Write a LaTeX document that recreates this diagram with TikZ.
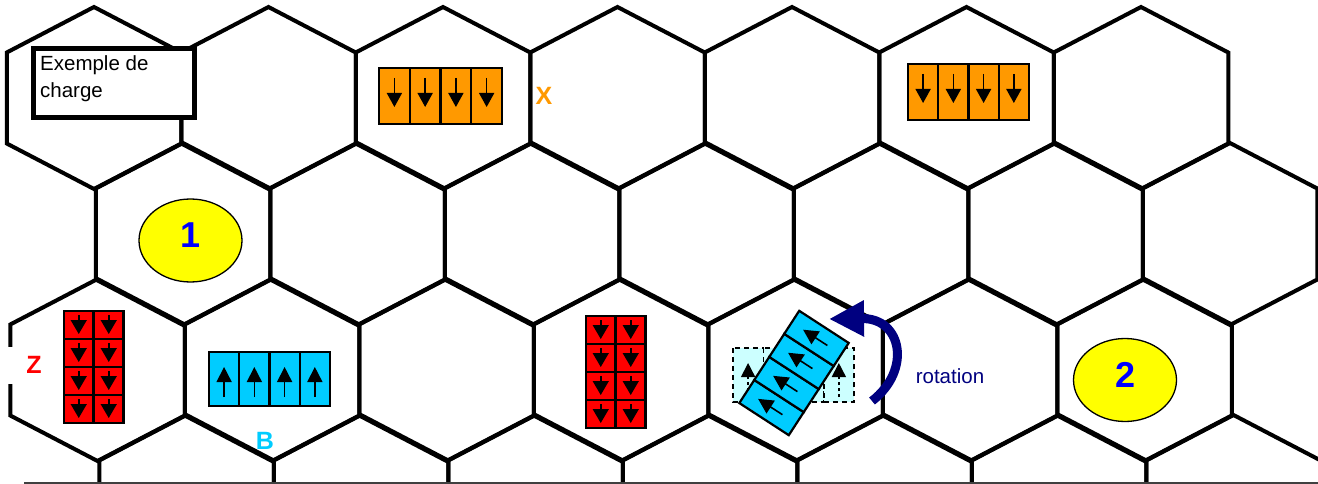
\documentclass[tikz,border=0pt]{standalone}
\usepackage{fontspec}
\setmainfont{Liberation Sans}
\usetikzlibrary{arrows.meta,shapes.geometric}
\definecolor{orangetile}{HTML}{FF9900}
\definecolor{redtile}{HTML}{FF0000}
\definecolor{cyantile}{HTML}{00CCFF}
\definecolor{ghosttile}{HTML}{CCFFFF}
\definecolor{navyrot}{HTML}{000080}
\definecolor{sitefill}{HTML}{FFFF00}
\definecolor{sitenum}{HTML}{0000FF}

\begin{document}
\begin{tikzpicture}[x=1pt, y=-1pt,
    hexedge/.style={line width=4pt, line join=miter},
    tilebox/.style={draw=black, line width=2.2pt},
    tiledown/.style={line width=1.6pt, -{Triangle[length=14pt, width=15pt]}},
    tilered/.style={line width=1.5pt, -{Triangle[length=14pt, width=16pt]}},
    tileup/.style={line width=1.6pt, -{Triangle[length=15pt, width=15pt]}},
    site/.style={ellipse, draw=black, line width=1.3pt, fill=sitefill, minimum width=103pt, minimum height=83pt, inner sep=0pt, text=sitenum, text depth=10pt, font=\fontsize{36}{40}\selectfont\bfseries},
    letter/.style={inner sep=0pt, font=\fontsize{25}{30}\selectfont\bfseries},
    chargetext/.style={anchor=base west, inner sep=0pt, font=\fontsize{20.5}{24}\selectfont},
    rotarrow/.style={navyrot, line width=9pt, -{Triangle[length=35pt, width=34pt]}}]
  \useasboundingbox (0,0) rectangle (1318,484);
  \fill[white] (0,0) rectangle (1318,484);
  % hex grid
  \begin{scope}
    \clip (0,0) rectangle (1318,484);
    \foreach \r in {0,...,3} {
      \foreach \c in {0,...,6} {
        \pgfmathsetmacro{\hx}{94 + 1.75*\r + 87.25*mod(\r,2) + 174.5*\c}
        \pgfmathsetmacro{\hy}{98 + 136*\r}
        \draw[hexedge] (\hx,\hy) +(0,-91) -- +(87.25,-45.5) -- +(87.25,45.5) -- +(0,91)
          -- +(-87.25,45.5) -- +(-87.25,-45.5) -- cycle;
      }
    }
  \end{scope}
  \draw[black!75, line width=1.3pt] (24,483) -- (1318,483);
  % legend box
  \draw[fill=white, line width=5pt] (33.5,48.5) rectangle (194.5,117.5);
  \node (chargeA) [chargetext] at (40,71) {Exemple de};
  \node (chargeB) [chargetext] at (40,97.5) {charge};
  % orange tiles
  \foreach \k in {0,...,3} {
    \draw[tilebox, fill=orangetile] (379+30.75*\k,68) rectangle ++(30.75,56);
    \draw[tiledown] (394.4+30.75*\k,78) -- ++(0,29);
    \draw[tilebox, fill=orangetile] (908+30.25*\k,64) rectangle ++(30.25,56);
    \draw[tiledown] (923.1+30.25*\k,74) -- ++(0,29);
  }
  \node (labX) [letter, text=orangetile] at (544,96) {X};
  % red tiles
  \foreach \i in {0,1} {
    \foreach \j in {0,...,3} {
      \draw[tilebox, fill=redtile] (64+30*\i,311+28*\j) rectangle ++(29.5,28);
      \draw[tilered] (78.75+30*\i,315+28*\j) -- ++(0,19);
      \draw[tilebox, fill=redtile] (586+30*\i,316+28*\j) rectangle ++(29.5,28);
      \draw[tilered] (600.75+30*\i,320+28*\j) -- ++(0,19);
    }
  }
  \node (labZ) [letter, text=redtile, fill=white, minimum width=54pt, minimum height=37pt] at (34,365) {Z};
  % blue tiles
  \foreach \k in {0,...,3} {
    \draw[tilebox, fill=cyantile] (209+30.25*\k,352) rectangle ++(30.25,54);
    \draw[tileup] (224.1+30.25*\k,397) -- ++(0,-30);
  }
  \node (labB) [letter, text=cyantile] at (265,441) {B};
  % ghost tiles before rotation
  \foreach \k in {0,...,3} {
    \draw[tilebox, line width=1.5pt, dashed, dash pattern=on 5pt off 4pt, fill=ghosttile] (733+30.25*\k,348) rectangle ++(30.25,54);
    \draw[line width=1.5pt, dashed, -{Triangle[length=14pt, width=14pt]}] (748.1+30.25*\k,397) -- ++(0,-34);
  }
  % rotated tiles
  \begin{scope}[shift={(794,373)}, rotate=57]
    \foreach \k in {0,...,3} {
      \draw[tilebox, fill=cyantile] (-55+27.5*\k,-29.5) rectangle ++(27.5,59);
      \draw[tileup] (-41.25+27.5*\k,13) -- ++(0,-29);
    }
  \end{scope}
  \coordinate (rotstart) at (872,401);
  \coordinate (rotend) at (829,319);
  \draw[rotarrow] (rotstart) .. controls (912,370) and (902,318) .. (rotend);
  \node (labRot) [inner sep=0pt, text=navyrot, font=\fontsize{20.5}{24}\selectfont] at (950,376) {rotation};
  % sites
  \node (siteA) [site] at (190.5,240.5) {1};
  \node (siteB) [site] at (1125,380) {2};
\end{tikzpicture}
\end{document}
